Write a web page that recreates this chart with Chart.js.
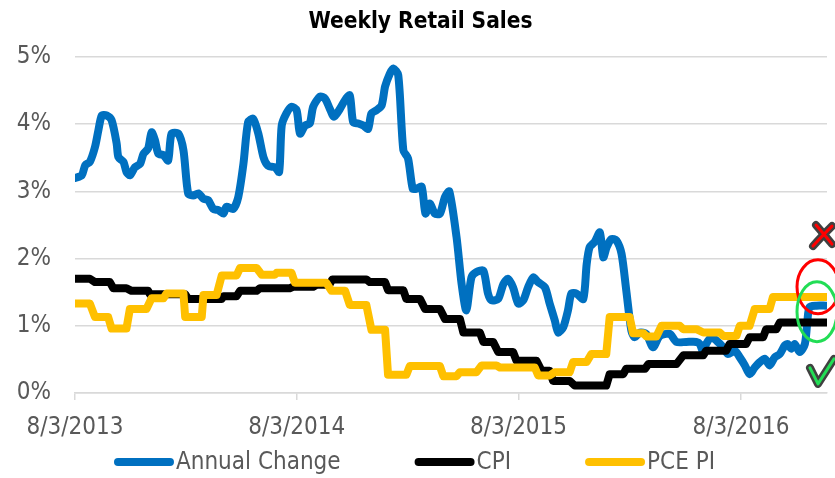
<!DOCTYPE html>
<html><head><meta charset="utf-8">
<script src="https://cdn.jsdelivr.net/npm/chart.js@4/dist/chart.umd.min.js"></script>
<style>html,body{margin:0;padding:0;background:#fff}#wrap{width:835px;height:478px;position:relative}</style>
</head><body><div id="wrap"><canvas id="c" width="835" height="478"></canvas></div>
<script>
const chartTitle = 'Weekly Retail Sales';
const seriesNames = ['Annual Change', 'CPI', 'PCE PI'];
const seriesColors = ['#0070C0', '#000000', '#FFC000'];
// x unit: weeks since 8/3/2013
const tickWeeks = [0, 52.14, 104.29, 156.57];
const tickLabels = ['8/3/2013', '8/3/2014', '8/3/2015', '8/3/2016'];
const xMaxWeek = 176.8;
const yTickValues = [0, 1, 2, 3, 4, 5];

const annualWeeks = [0,1.6,2.4,3.5,4.7,5.5,6.3,7.4,8.6,9.8,10.2,11.4,12.1,12.9,14.1,15.3,16.1,17.2,18.0,18.8,19.6,20.8,21.9,22.7,24.3,25.5,26.6,27.8,29.0,30.2,31.3,32.5,33.7,34.9,35.6,37.2,38.4,39.6,40.7,41.9,43.1,44.3,45.4,47.0,48.0,48.6,49.7,50.9,52.1,52.9,54.1,55.2,56.0,57.6,58.8,59.9,60.9,62.3,63.5,64.6,65.4,66.6,67.8,68.9,69.7,70.9,72.1,72.9,74.0,74.8,76.0,77.2,78.3,79.4,80.3,81.5,82.4,83.4,84.6,85.8,87.0,88.0,89.7,90.9,92.0,93.2,94.4,96.0,97.1,97.9,99.5,100.7,101.8,103.0,104.2,105.4,106.5,107.7,108.9,110.5,111.6,112.8,113.6,114.8,115.9,116.7,117.9,119.5,120.3,121.0,122.2,123.4,124.2,125.0,126.1,127.3,128.5,129.6,130.8,131.6,132.8,134.3,135.9,137.5,139.8,141.4,143.7,146.1,146.9,147.7,148.4,149.6,150.8,152.4,153.5,155.1,156.3,157.5,158.6,159.8,161.0,162.2,163.3,164.5,165.7,166.9,167.6,168.4,169.2,170.4,171.6,172.2,172.7,174.3,176.6];
const annualValues = [3.20,3.24,3.39,3.44,3.66,3.91,4.13,4.13,4.06,3.71,3.51,3.44,3.29,3.24,3.36,3.41,3.56,3.64,3.88,3.76,3.56,3.54,3.46,3.86,3.86,3.61,2.97,2.94,2.97,2.89,2.87,2.74,2.72,2.67,2.77,2.74,2.92,3.41,4.03,4.08,3.86,3.51,3.38,3.36,3.29,3.98,4.16,4.26,4.21,3.86,3.98,4.01,4.26,4.41,4.38,4.23,4.11,4.23,4.36,4.43,4.03,4.01,3.98,3.93,4.16,4.21,4.28,4.56,4.75,4.83,4.73,3.61,3.49,3.04,3.04,3.07,2.67,2.82,2.67,2.67,2.92,3.00,2.32,1.62,1.23,1.72,1.80,1.82,1.48,1.38,1.40,1.62,1.70,1.57,1.33,1.38,1.57,1.72,1.65,1.57,1.33,1.08,0.90,0.98,1.23,1.48,1.48,1.40,1.92,2.17,2.25,2.39,2.02,2.17,2.29,2.27,2.07,1.53,0.93,0.83,0.90,0.88,0.68,0.85,0.88,0.76,0.76,0.76,0.73,0.61,0.73,0.83,0.78,0.68,0.58,0.63,0.53,0.41,0.28,0.38,0.46,0.51,0.41,0.53,0.58,0.71,0.73,0.66,0.73,0.61,0.73,1.08,1.28,1.30,1.30];

// CPI: monthly levels held over weekly observations (segment start week, end week, value)
const cpiFrom = [0,4.7,9.0,13.3,17.6,26.6,34.9,38.8,43.5,51.3,56.8,60.5,69.3,73.6,77.9,82.3,87.0,91.3,96.0,99.5,103.8,109.7,112.4,117.5,125.7,129.6,134.8,143.0,148.4,153.9,158.6,162.5,165.7];
const cpiTo   = [3.5,8.2,12.1,17.2,25.9,34.5,38.0,42.7,50.5,56.0,59.8,68.5,72.9,77.2,81.1,85.8,90.5,95.2,98.3,103.0,108.5,111.6,116.3,124.9,128.9,134.0,141.4,147.7,153.1,157.8,161.8,164.9,176.6];
const cpiValues = [1.70,1.65,1.56,1.52,1.47,1.40,1.44,1.52,1.56,1.58,1.61,1.69,1.65,1.53,1.40,1.25,1.10,0.90,0.76,0.61,0.48,0.33,0.18,0.11,0.28,0.36,0.43,0.56,0.63,0.73,0.83,0.95,1.05];

const pceFrom = [0,4.7,8.6,12.9,18.0,21.5,25.9,30.2,34.5,38.8,43.9,47.4,51.7,60.3,64.6,69.7,73.6,78.7,86.6,90.5,95.6,99.9,108.9,112.8,117.1,121.4,125.7,131.2,134.4,137.9,143.0,147.7,152.4,156.3,159.8,164.1];
const pceTo   = [3.5,7.8,12.1,16.8,20.8,25.5,29.8,33.3,38.0,42.7,47.0,50.9,59.1,63.5,68.5,72.9,77.9,85.8,89.7,94.4,99.1,108.1,111.6,116.3,120.3,124.9,130.4,133.6,136.7,142.2,146.1,151.6,155.5,158.6,163.3,176.6];
const pceValues = [1.33,1.13,0.96,1.25,1.41,1.48,1.13,1.46,1.75,1.86,1.76,1.79,1.64,1.52,1.31,0.94,0.27,0.40,0.25,0.31,0.41,0.38,0.26,0.31,0.46,0.58,1.13,0.89,0.84,1.00,0.95,0.90,0.85,1.00,1.25,1.43];

const FONT = "'Liberation Sans Narrow','Arial Narrow','DejaVu Sans Condensed',sans-serif";
const GRID = '#D9D9D9';
const LABEL = '#595959';

function stepPoints(from, to, vals) {
  const pts = [];
  for (let i = 0; i < vals.length; i++) {
    pts.push({x: from[i], y: vals[i]});
    pts.push({x: to[i], y: vals[i]});
  }
  return pts;
}
const annualPoints = annualWeeks.map((w, i) => ({x: w, y: annualValues[i]}));

const bottomLegend = {
  id: 'bottomLegend',
  afterDraw(chart) {
    const ctx = chart.ctx;
    ctx.save();
    ctx.font = '24px ' + FONT;
    ctx.textBaseline = 'middle';
    const sw = 60, gap = 2, spacing = 74, y = 462;
    const items = chart.data.datasets.map(d => ({label: d.label, color: d.borderColor, w: ctx.measureText(d.label).width}));
    const total = items.reduce((s, it) => s + sw + gap + it.w, 0) + spacing * (items.length - 1);
    let x = chart.width / 2 - total / 2 - 3;
    items.forEach(it => {
      ctx.strokeStyle = it.color;
      ctx.lineWidth = 8;
      ctx.lineCap = 'round';
      ctx.beginPath();
      ctx.moveTo(x + 4, y);
      ctx.lineTo(x + sw - 4, y);
      ctx.stroke();
      ctx.fillStyle = LABEL;
      ctx.fillText(it.label, x + sw + gap, y + 1);
      x += sw + gap + it.w + spacing;
    });
    ctx.restore();
  }
};

// Hand-drawn marks at the right edge of the plot
const markers = {
  id: 'markers',
  afterDatasetsDraw(chart) {
    const ctx = chart.ctx, ys = chart.scales.y, r = chart.chartArea.right;
    ctx.save();
    ctx.lineCap = 'round'; ctx.lineJoin = 'round';
    const cy = ys.getPixelForValue(2.35), cx = r - 4;
    const cross = [[[cx - 10, cy + 11], [cx - 2, cy + 2], [cx + 9, cy - 9]], [[cx - 7, cy - 10], [cx, cy - 2], [cx + 9, cy + 9]]];
    [['#404040', 8], ['#FF0000', 3]].forEach(([col, w]) => {
      ctx.strokeStyle = col; ctx.lineWidth = w;
      cross.forEach(p => { ctx.beginPath(); ctx.moveTo(p[0][0], p[0][1]); ctx.quadraticCurveTo(p[1][0], p[1][1], p[2][0], p[2][1]); ctx.stroke(); });
    });
    ctx.lineWidth = 3;
    ctx.strokeStyle = '#FF0000';
    ctx.beginPath(); ctx.ellipse(r - 9, ys.getPixelForValue(1.58), 21, 27, 0, 0, Math.PI * 2); ctx.stroke();
    ctx.strokeStyle = '#22DD55';
    ctx.beginPath(); ctx.ellipse(r - 10, ys.getPixelForValue(1.21), 20, 30, 0, 0, Math.PI * 2); ctx.stroke();
    const ky = ys.getPixelForValue(0.27), kx = r - 10;
    [['#404040', 8], ['#22DD55', 3]].forEach(([col, w]) => {
      ctx.strokeStyle = col; ctx.lineWidth = w;
      ctx.beginPath(); ctx.moveTo(kx - 7, ky - 7); ctx.lineTo(kx + 1, ky + 9); ctx.lineTo(kx + 17, ky - 16); ctx.stroke();
    });
    ctx.restore();
  }
};

Chart.defaults.font.family = FONT;

new Chart(document.getElementById('c'), {
  type: 'line',
  data: {
    datasets: [
      {label: seriesNames[0], data: annualPoints, borderColor: seriesColors[0], backgroundColor: seriesColors[0], borderWidth: 8, tension: 0.25, order: 3},
      {label: seriesNames[1], data: stepPoints(cpiFrom, cpiTo, cpiValues), borderColor: seriesColors[1], backgroundColor: seriesColors[1], borderWidth: 8, tension: 0, order: 2},
      {label: seriesNames[2], data: stepPoints(pceFrom, pceTo, pceValues), borderColor: seriesColors[2], backgroundColor: seriesColors[2], borderWidth: 8, tension: 0, order: 1}
    ]
  },
  options: {
    responsive: false,
    animation: false,
    elements: {point: {radius: 0}, line: {borderCapStyle: 'round', borderJoinStyle: 'round'}},
    layout: {padding: {left: 14, right: 8, top: 0, bottom: 0}},
    plugins: {
      legend: {display: false},
      tooltip: {enabled: false},
      title: {display: true, text: chartTitle, color: '#000', font: {size: 22.5, weight: 'bold', family: FONT, lineHeight: 1.2}, padding: {top: 9, bottom: 21}}
    },
    scales: {
      x: {
        type: 'linear', min: 0, max: xMaxWeek,
        afterBuildTicks: s => { s.ticks = tickWeeks.map(v => ({value: v})); },
        afterFit: s => { s.height = 85; s.paddingLeft = 0; s.paddingRight = 0; },
        ticks: {callback: (v, i) => tickLabels[i], color: LABEL, font: {size: 24}, padding: 13, maxRotation: 0, autoSkip: false},
        grid: {drawOnChartArea: false, drawTicks: true, tickLength: 7, color: GRID, lineWidth: 1.5},
        border: {display: true, color: GRID, width: 1.5}
      },
      y: {
        min: 0, max: 5,
        afterBuildTicks: s => { s.ticks = yTickValues.map(v => ({value: v})); },
        afterFit: s => { s.width = 61; },
        ticks: {callback: v => v + '%', color: LABEL, font: {size: 24}, padding: 24},
        grid: {color: GRID, lineWidth: 1.5, drawTicks: false},
        border: {display: false}
      }
    }
  },
  plugins: [bottomLegend, markers]
});
</script>
</body></html>
